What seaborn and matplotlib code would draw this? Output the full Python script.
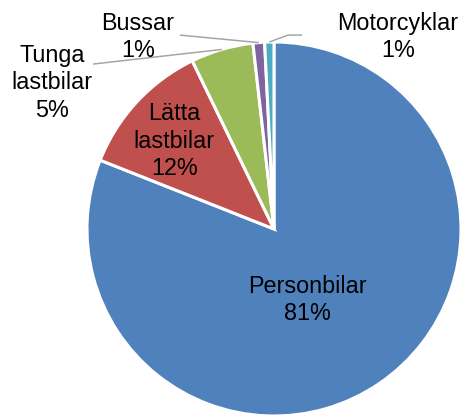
import numpy as np
import matplotlib
matplotlib.use('Agg')
import matplotlib.pyplot as plt
import seaborn as sns

# ── Data ──────────────────────────────────────────────────────────────────────
categories = ['Personbilar', 'Lätta\nlastbilar', 'Tunga\nlastbilar', 'Bussar', 'Motorcyklar']
shares     = [81.0, 11.8, 5.4, 1.0, 0.8]
colors     = ['#4F81BD', '#C0504D', '#9BBB59', '#8064A2', '#4BACC6']

# ── Style ─────────────────────────────────────────────────────────────────────
sns.set_theme(style='white')
plt.rcParams['font.family'] = ['Liberation Sans', 'DejaVu Sans']

FONT_SIZE = 16.8
LEADER    = '#A6A6A6'

# label placement: ('in', radius, angle) or ('out', (x, y), leader polyline start points)
layout = [
    ('in',  0.42, -64.8),
    ('in',  0.71, 138.6),
    ('out', (-1.187, 0.781), [(-0.968, 0.882)]),
    ('out', (-0.727, 1.027), [(-0.503, 1.037)]),
    ('out', (0.663, 1.027),  [(0.150, 1.037), (0.075, 1.037)]),
]

fig = plt.figure(figsize=(4.62, 4.16), dpi=100)
ax = fig.add_axes([87 / 462, 0.0, 374 / 462, 374 / 416])

wedges, _ = ax.pie(shares, colors=sns.color_palette(colors), startangle=90,
                   counterclock=False,
                   wedgeprops={'edgecolor': 'white', 'linewidth': 2.2})
ax.set_xlim(-1, 1)
ax.set_ylim(-1, 1)
ax.set_aspect('equal')
ax.axis('off')

total = sum(shares)
for wedge, name, val, spec in zip(wedges, categories, shares, layout):
    text = f'{name}\n{round(val / total * 100):.0f}%'
    if spec[0] == 'in':
        r, ang = spec[1], np.deg2rad(spec[2])
        ax.text(r * np.cos(ang), r * np.sin(ang), text, ha='center', va='center',
                fontsize=FONT_SIZE, color='black', linespacing=1.25)
    else:
        (tx, ty), pts = spec[1], spec[2]
        mid = np.deg2rad((wedge.theta1 + wedge.theta2) / 2)
        xs = [p[0] for p in pts] + [np.cos(mid)]
        ys = [p[1] for p in pts] + [np.sin(mid)]
        ax.plot(xs, ys, color=LEADER, lw=1.1, clip_on=False, solid_capstyle='butt')
        ax.text(tx, ty, text, ha='center', va='center',
                fontsize=FONT_SIZE, color='black', linespacing=1.25)

fig.savefig('out.png', dpi=100)
